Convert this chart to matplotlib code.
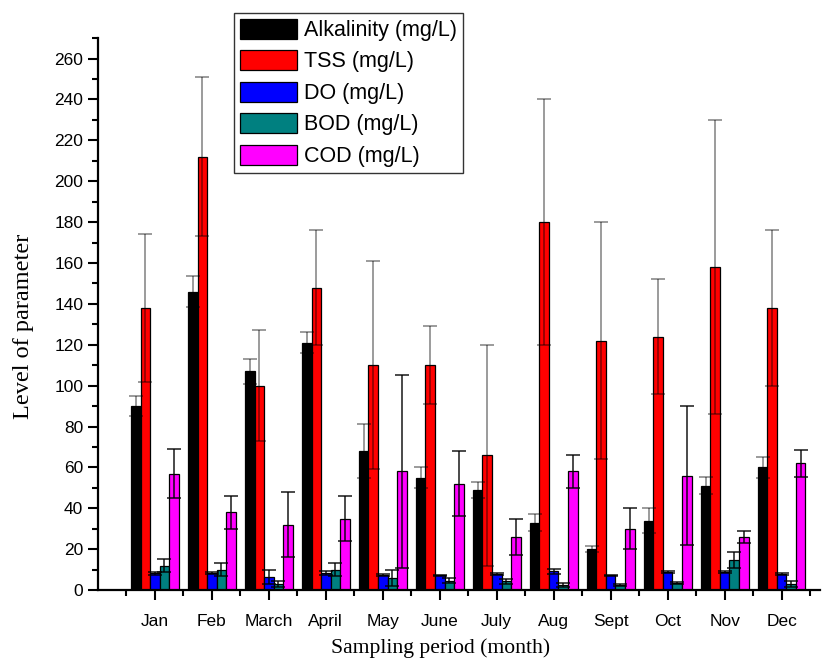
import numpy as np
import matplotlib
matplotlib.use('Agg')
import matplotlib.pyplot as plt
from matplotlib.ticker import MultipleLocator, FixedLocator

# data
months = ['Jan', 'Feb', 'March', 'April', 'May', 'June', 'July', 'Aug', 'Sept', 'Oct', 'Nov', 'Dec']
series = ['Alkalinity (mg/L)', 'TSS (mg/L)', 'DO (mg/L)', 'BOD (mg/L)', 'COD (mg/L)']

alk = [90, 146, 107, 121, 68, 55, 49, 33, 20, 34, 51, 60]
alk_err = [5, 7.5, 6, 5, 13, 5, 4, 4.3, 1.6, 6.3, 4.2, 5]
tss = [138, 212, 100, 148, 110, 110, 66, 180, 122, 124, 158, 138]
tss_err = [36, 39, 27, 28, 51, 19, 54, 60, 58, 28, 72, 38]
do = [8.3, 8.3, 6.3, 8.3, 7.4, 7.2, 7.8, 9.2, 7.2, 8.9, 8.9, 7.8]
do_err = [0.7, 0.5, 3.5, 0.8, 0.4, 0.4, 0.4, 1.2, 0.4, 0.5, 0.5, 0.5]
bod = [12, 10, 2.9, 10, 6, 4.5, 4.2, 2.4, 2.4, 3.4, 14.8, 2.9]
bod_err = [3, 3, 1.6, 3, 4, 1.2, 1.4, 1, 0.6, 0.5, 3.8, 1.3]
cod = [57, 38, 32, 35, 58, 52, 26, 58, 30, 56, 26, 62]
cod_err = [12, 8, 16, 11, 47, 16, 9, 8, 10, 34, 3, 6.6]

values = [alk, tss, do, bod, cod]
errors = [alk_err, tss_err, do_err, bod_err, cod_err]
colors = ['#000000', '#ff0000', '#0000ff', '#008080', '#ff00ff']
ealpha = [0.5, 0.5, 0.9, 0.9, 0.9]

fig = plt.figure(figsize=(8.29, 6.69), dpi=100)
ax = fig.add_axes([0.118, 0.118, 0.871, 0.825])

x = np.arange(1, len(months) + 1)
w = 0.167
for i, (vals, errs) in enumerate(zip(values, errors)):
    pos = x + (i - 2) * w
    ax.bar(pos, vals, width=w, color=colors[i], edgecolor='black', linewidth=0.9,
           label=series[i], zorder=2)
    ax.errorbar(pos, vals, yerr=errs, fmt='none', ecolor='black', elinewidth=1.1,
                capsize=4.8, capthick=1.1, alpha=ealpha[i], zorder=3)

# axes formatting
ax.set_xlim(0, 12.67)
ax.set_ylim(0, 270)
ax.xaxis.set_major_locator(FixedLocator(x))
ax.xaxis.set_minor_locator(FixedLocator(np.arange(0.5, 13, 1.0)))
ax.set_xticklabels(months)
ax.yaxis.set_major_locator(MultipleLocator(20))
ax.yaxis.set_minor_locator(MultipleLocator(10))
ax.set_yticks(np.arange(0, 261, 20))

for s in ['top', 'right']:
    ax.spines[s].set_visible(False)
for s in ['left', 'bottom']:
    ax.spines[s].set_linewidth(1.6)

ax.tick_params(axis='both', which='major', direction='out', length=7, width=1.5,
               labelsize=12.5, labelfontfamily='Liberation Sans')
ax.tick_params(axis='both', which='minor', direction='out', length=4, width=1.5)
ax.tick_params(axis='x', which='major', pad=10)

ax.set_xlabel('Sampling period (month)', fontsize=15.6, family='Liberation Serif')
ax.set_ylabel('Level of parameter', fontsize=17.5, family='Liberation Serif')
ax.xaxis.set_label_coords(0.475, -0.088)
ax.yaxis.set_label_coords(-0.088, 0.478)

leg = fig.legend(loc='upper left', bbox_to_anchor=(0.282, 0.981), frameon=True, fancybox=False,
                 prop={'family': 'Liberation Sans', 'size': 15.5}, handlelength=2.65,
                 handleheight=1.07, labelspacing=0.42, handletextpad=0.33, borderpad=0.27,
                 borderaxespad=0)
leg.get_frame().set_edgecolor('black')
leg.get_frame().set_linewidth(1.0)

plt.savefig('out.png', dpi=100)
plt.close()
